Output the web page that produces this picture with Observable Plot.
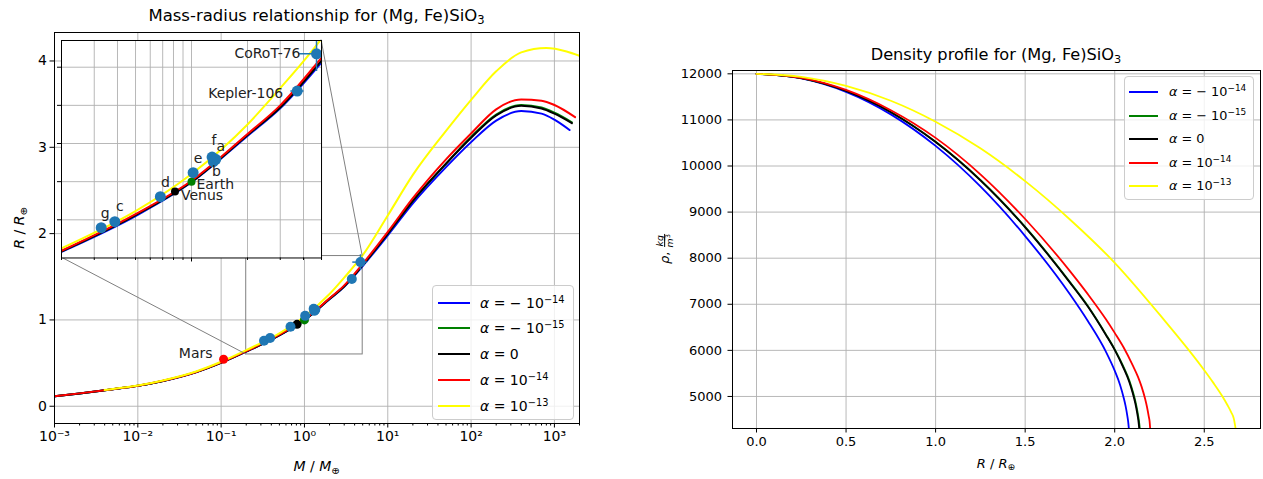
<!DOCTYPE html>
<html><head><meta charset="utf-8">
<script src="https://cdn.jsdelivr.net/npm/d3@7"></script>
<script src="https://cdn.jsdelivr.net/npm/@observablehq/plot@0.6"></script>
<style>
body{margin:0;background:#fff;font-family:"DejaVu Sans",sans-serif;color:#000;}
#root{position:relative;width:1263px;height:479px;overflow:hidden;background:#fff;}
#root svg{max-width:none;position:absolute;}
.lbl{position:absolute;white-space:nowrap;line-height:1;}
.lbl sub{font-size:0.7em;vertical-align:-0.3em;line-height:0;}
.lbl sup{font-size:0.7em;vertical-align:0.55em;line-height:0;}
.legend{position:absolute;background:rgba(255,255,255,0.8);border:1px solid #cccccc;border-radius:4px;box-sizing:border-box;}
.row{position:absolute;left:0;white-space:nowrap;line-height:1;}
.row .sw{position:absolute;height:2px;}
.row .tx{position:absolute;}
</style></head><body><div id="root"></div>
<script>
// ---------------- data ----------------
const seriesKeys = ["m14", "m15", "zero", "p14", "p13"];
const seriesExp = ["−14", "−15", null, "−14", "−13"];
const seriesSign = ["− ", "− ", "", "", ""];
const seriesColors = ["#0000ff", "#008000", "#000000", "#ff0000", "#ffff00"];

// mass-radius curves (M in Earth masses, R in Earth radii)
const massBlue   = [0.001,0.002,0.005,0.01,0.02,0.05,0.1,0.2,0.5,1,2,3,5,10,20,50,100,200,400,700,1000,1520];
const radiusBlue = [0.114,0.147,0.196,0.236,0.292,0.394,0.503,0.632,0.82,0.997,1.24,1.385,1.625,1.98,2.35,2.77,3.06,3.31,3.42,3.39,3.32,3.20];
const massGreen   = [0.001,0.002,0.005,0.01,0.02,0.05,0.1,0.2,0.5,1,2,3,5,10,20,50,100,200,400,700,1000,1620];
const radiusGreen = [0.115,0.148,0.197,0.237,0.293,0.395,0.505,0.635,0.825,1.0,1.245,1.39,1.635,2.0,2.38,2.81,3.12,3.38,3.49,3.46,3.40,3.29];
const massBlack   = [0.001,0.002,0.005,0.01,0.02,0.05,0.1,0.2,0.5,1,2,3,5,10,20,50,100,200,400,700,1000,1620];
const radiusBlack = [0.115,0.148,0.197,0.237,0.293,0.395,0.505,0.635,0.825,1.0,1.245,1.39,1.635,2.0,2.38,2.81,3.11,3.37,3.48,3.45,3.39,3.28];
const massRed   = [0.001,0.002,0.005,0.01,0.02,0.05,0.1,0.2,0.5,1,2,3,5,10,20,50,100,200,400,700,1000,1770];
const radiusRed = [0.116,0.149,0.198,0.238,0.295,0.397,0.508,0.638,0.83,1.005,1.25,1.40,1.65,2.02,2.41,2.86,3.16,3.44,3.555,3.54,3.49,3.35];
const massYellow   = [0.004,0.005,0.01,0.02,0.05,0.1,0.2,0.5,1,2,3,5,10,20,50,100,200,400,800,1400,2000];
const radiusYellow = [0.187,0.200,0.240,0.299,0.403,0.515,0.65,0.845,1.04,1.30,1.49,1.75,2.21,2.68,3.19,3.55,3.88,4.10,4.15,4.11,4.06];

// density profiles (R in Earth radii, rho in kg/m^3)
const rBlue   = [0,0.25,0.5,0.75,1.0,1.25,1.5,1.75,1.85,1.95,2.0,2.03,2.05,2.06,2.07,2.075,2.079];
const rhoBlue = [12000,11902,11609,11120,10436,9557,8480,7217,6637,5977,5559,5251,4974,4806,4592,4460,4305];
const rGreen   = [0,0.25,0.5,0.75,1.0,1.25,1.5,1.75,1.85,1.95,2.0,2.053,2.083,2.103,2.118,2.128,2.135,2.14];
const rhoGreen = [12000,11909,11632,11172,10525,9697,8680,7482,6962,6352,6022,5610,5330,5080,4850,4650,4480,4305];
const rBlack   = [0,0.25,0.5,0.75,1.0,1.25,1.5,1.75,1.85,1.95,2.0,2.05,2.08,2.1,2.115,2.125,2.132,2.137];
const rhoBlack = [12000,11908,11630,11167,10520,9690,8670,7470,6950,6340,6010,5610,5330,5080,4850,4650,4480,4305];
const rRed   = [0,0.25,0.5,0.75,1.0,1.25,1.5,1.75,1.85,1.95,2.0,2.05,2.1,2.13,2.15,2.17,2.18,2.19,2.195,2.198];
const rhoRed = [12000,11912,11650,11210,10610,9820,8850,7720,7220,6680,6380,6062,5680,5425,5213,4945,4778,4570,4455,4305];
const rYellow   = [0,0.25,0.5,0.75,1.0,1.25,1.5,1.75,2.0,2.25,2.5,2.55,2.6,2.63,2.65,2.665,2.675];
const rhoYellow = [12000,11935,11738,11415,10960,10383,9671,8840,7900,6780,5570,5300,5010,4810,4660,4520,4305];

// exoplanets
const planetNames  = ["g","c","d","e","f","a","b","Kepler-106","CoRoT-76"];
const planetMass   = [0.327,0.387,0.68,1.02,1.29,1.35,1.31,3.7,4.7];
const planetRadius = [0.759,0.79,0.921,1.047,1.129,1.117,1.105,1.475,1.67];
const planetMassErr   = [0,0,0,0,0,0,0,0.3,0.95];
const planetRadiusErr = [0,0,0,0,0,0,0,0,0.09];
// solar system planets
const solarNames  = ["Venus","Earth","Mars"];
const solarMass   = [0.815,1.0,0.107];
const solarRadius = [0.949,1.0,0.545];

// axis domains / ticks
const massDomain = [1e-3, 2000];
const radiusDomain = [-0.2, 4.33];
const radiusTicks = [0,1,2,3,4];
const zoomMass = [0.2, 5];
const zoomRadius = [0.6, 1.74];
const zoomRadiusTicks = [0.8,1.0,1.2,1.4,1.6];
const densRDomain = [-0.134, 2.814];
const densRhoDomain = [4305, 12072];
const densRTicks = [0,0.5,1.0,1.5,2.0,2.5];
const densRhoTicks = [5000,6000,7000,8000,9000,10000,11000,12000];

// ---------------- build ----------------
const root = document.getElementById("root");
const FONT = "DejaVu Sans";
const GRID = "#b0b0b0";
const DOT = "#1f77b4";
const solarColors = ["#000000", "#008000", "#ff0000"];

const mrRows = [
  [massBlue, radiusBlue], [massGreen, radiusGreen], [massBlack, radiusBlack],
  [massRed, radiusRed], [massYellow, radiusYellow]
].flatMap(([M, R], k) => M.map((m, i) => ({series: seriesKeys[k], M: m, R: R[i]})));
const densRows = [
  [rBlue, rhoBlue], [rGreen, rhoGreen], [rBlack, rhoBlack], [rRed, rhoRed], [rYellow, rhoYellow]
].flatMap(([X, Y], k) => X.map((r, i) => ({series: seriesKeys[k], r, rho: Y[i]})));
const planets = planetNames.map((n, i) => ({name: n, M: planetMass[i], R: planetRadius[i],
  dM: planetMassErr[i], dR: planetRadiusErr[i]}));
const solar = solarNames.map((n, i) => ({name: n, M: solarMass[i], R: solarRadius[i], c: solarColors[i]}));

const supDigits = "⁰¹²³⁴⁵⁶⁷⁸⁹";
const supStr = s => String(s).replace(/-/g, "⁻").replace(/\d/g, d => supDigits[d]);
const fmtPow = d => "10" + supStr(Math.round(Math.log10(d)));

const logTicks = (lo, hi) => d3.scaleLog().domain([lo, hi]).ticks();
const isPow10 = d => Math.abs(Math.log10(d) - Math.round(Math.log10(d))) < 1e-9;
const allMassTicks = logTicks(massDomain[0], massDomain[1]);
const majorMassTicks = allMassTicks.filter(isPow10);
const minorMassTicks = allMassTicks.filter(d => !isPow10(d));
const allZoomTicks = logTicks(zoomMass[0], zoomMass[1]);
const majorZoomTicks = allZoomTicks.filter(isPow10);
const minorZoomTicks = allZoomTicks.filter(d => !isPow10(d));

const color = {domain: seriesKeys, range: seriesColors};

// main mass-radius panel
const MF = {left: 54, right: 579, top: 32, bottom: 423, W: 600, H: 479};
const main = Plot.plot({
  width: MF.W, height: MF.H,
  marginLeft: MF.left, marginRight: MF.W - MF.right, marginTop: MF.top, marginBottom: MF.H - MF.bottom,
  x: {type: "log", domain: massDomain, label: null},
  y: {domain: radiusDomain, label: null},
  color,
  style: {fontFamily: FONT, fontSize: "14px", background: "transparent", overflow: "visible"},
  marks: [
    Plot.gridX(majorMassTicks, {stroke: GRID, strokeOpacity: 1, strokeWidth: 0.9}),
    Plot.gridY(radiusTicks, {stroke: GRID, strokeOpacity: 1, strokeWidth: 0.9}),
    Plot.axisX(minorMassTicks, {tickSize: 2.5, tickFormat: () => "", label: null}),
    Plot.axisX(majorMassTicks, {tickSize: 4.5, tickPadding: 3, tickFormat: fmtPow, label: null}),
    Plot.axisY(radiusTicks, {tickSize: 4.5, tickPadding: 3, tickFormat: d => String(d), label: null}),
    Plot.rect([{}], {x1: () => zoomMass[0], x2: () => zoomMass[1], y1: () => zoomRadius[0], y2: () => zoomRadius[1],
      stroke: "#808080", fill: "none", strokeWidth: 1}),
    Plot.line(mrRows, {x: "M", y: "R", z: "series", stroke: "series", strokeWidth: 2, curve: "monotone-x", clip: true}),
    Plot.dot(solar, {x: "M", y: "R", r: 4.5, fill: d => d.c, stroke: null}),
    Plot.link(planets.filter(d => d.dM > 0), {x1: d => d.M - d.dM, x2: d => d.M + d.dM, y1: "R", y2: "R", stroke: DOT, strokeWidth: 1.5}),
    Plot.link(planets.filter(d => d.dR > 0), {x1: "M", x2: "M", y1: d => d.R - d.dR, y2: d => d.R + d.dR, stroke: DOT, strokeWidth: 1.5}),
    Plot.dot(planets, {x: "M", y: "R", r: 5, fill: DOT, stroke: null}),
    Plot.text(solar.filter(d => d.name === "Mars"), {x: "M", y: "R", text: "name", dx: -11, dy: -6, textAnchor: "end", fontSize: 14, fill: "#222"}),
    Plot.frame({stroke: "#000", strokeWidth: 1})
  ]
});
main.style.left = "0px"; main.style.top = "0px";
root.appendChild(main);

// inset placement (fractions of main axes)
const insetFrac = {x0: 0.0133, x1: 0.5086, y0: 0.4246, y1: 0.9808};
const IB = {
  left: MF.left + insetFrac.x0 * (MF.right - MF.left),
  right: MF.left + insetFrac.x1 * (MF.right - MF.left),
  top: MF.bottom - insetFrac.y1 * (MF.bottom - MF.top),
  bottom: MF.bottom - insetFrac.y0 * (MF.bottom - MF.top)
};
// connector lines from inset corners to zoom box corners
{
  const sx = main.scale("x"), sy = main.scale("y");
  const svg = d3.select(main);
  const conns = [
    [IB.left, IB.bottom, sx.apply(zoomMass[0]), sy.apply(zoomRadius[0])],
    [IB.right, IB.top, sx.apply(zoomMass[1]), sy.apply(zoomRadius[1])]
  ];
  svg.append("g").selectAll("line").data(conns).join("line")
    .attr("x1", d => d[0]).attr("y1", d => d[1]).attr("x2", d => d[2]).attr("y2", d => d[3])
    .attr("stroke", "#808080").attr("stroke-width", 1);
}

// inset
const PAD = 8;
const iw = IB.right - IB.left, ih = IB.bottom - IB.top;
const labelOffsets = {
  "g": {dx: 4, dy: -14, anchor: "middle"}, "c": {dx: 5, dy: -15, anchor: "middle"},
  "d": {dx: 5, dy: -14, anchor: "middle"}, "e": {dx: 5, dy: -14, anchor: "middle"},
  "f": {dx: 2, dy: -17, anchor: "middle"}, "a": {dx: 5, dy: -13, anchor: "middle"},
  "b": {dx: 3, dy: 10, anchor: "middle"},
  "Kepler-106": {dx: -14, dy: 2, anchor: "end"}, "CoRoT-76": {dx: -16, dy: 0, anchor: "end"},
  "Earth": {dx: 5, dy: 3, anchor: "start"}, "Venus": {dx: 6, dy: 4, anchor: "start"}
};
const insetLabels = [...planets, ...solar.filter(d => d.name !== "Mars")];
const inset = Plot.plot({
  width: iw + 2 * PAD, height: ih + 2 * PAD, margin: PAD,
  x: {type: "log", domain: zoomMass, label: null},
  y: {domain: zoomRadius, label: null},
  color,
  style: {fontFamily: FONT, fontSize: "14px", background: "transparent", overflow: "visible"},
  marks: [
    Plot.frame({fill: "#fff", stroke: null}),
    Plot.gridX(allZoomTicks, {stroke: GRID, strokeOpacity: 1, strokeWidth: 0.9}),
    Plot.gridY(zoomRadiusTicks, {stroke: GRID, strokeOpacity: 1, strokeWidth: 0.9}),
    Plot.axisX(minorZoomTicks, {tickSize: 2.5, tickFormat: () => "", label: null}),
    Plot.axisX(majorZoomTicks, {tickSize: 4, tickFormat: () => "", label: null}),
    Plot.axisY(zoomRadiusTicks, {tickSize: 4, tickFormat: () => "", label: null}),
    Plot.line(mrRows, {x: "M", y: "R", z: "series", stroke: "series", strokeWidth: 2, curve: "monotone-x", clip: true}),
    Plot.dot(solar, {x: "M", y: "R", r: 4, fill: d => d.c, stroke: null, clip: true}),
    Plot.link(planets.filter(d => d.dM > 0), {x1: d => d.M - d.dM, x2: d => d.M + d.dM, y1: "R", y2: "R", stroke: DOT, strokeWidth: 1.5, clip: true}),
    Plot.link(planets.filter(d => d.dR > 0), {x1: "M", x2: "M", y1: d => d.R - d.dR, y2: d => d.R + d.dR, stroke: DOT, strokeWidth: 1.5, clip: true}),
    Plot.dot(planets, {x: "M", y: "R", r: 5.5, fill: DOT, stroke: null}),
    ...insetLabels.map(d => {
      const o = labelOffsets[d.name];
      return Plot.text([d], {x: "M", y: "R", text: "name", fontSize: 14, fill: "#222",
        dx: o.dx, dy: o.dy, textAnchor: o.anchor});
    }),
    Plot.frame({stroke: "#000", strokeWidth: 1})
  ]
});
inset.style.left = (IB.left - PAD) + "px"; inset.style.top = (IB.top - PAD) + "px";
root.appendChild(inset);

// density panel
const DF = {x: 640, W: 623, H: 479, left: 92, right: 620, top: 70, bottom: 428};
const dens = Plot.plot({
  width: DF.W, height: DF.H,
  marginLeft: DF.left, marginRight: DF.W - DF.right, marginTop: DF.top, marginBottom: DF.H - DF.bottom,
  x: {domain: densRDomain, label: null},
  y: {domain: densRhoDomain, label: null},
  color,
  style: {fontFamily: FONT, fontSize: "13px", background: "transparent", overflow: "visible"},
  marks: [
    Plot.gridX(densRTicks, {stroke: GRID, strokeOpacity: 1, strokeWidth: 0.9}),
    Plot.gridY(densRhoTicks, {stroke: GRID, strokeOpacity: 1, strokeWidth: 0.9}),
    Plot.axisX(densRTicks, {tickSize: 4.5, tickPadding: 4, tickFormat: d3.format(".1f"), label: null}),
    Plot.axisY(densRhoTicks, {tickSize: 4.5, tickPadding: 6, tickFormat: d => String(d), label: null}),
    Plot.line(densRows, {x: "r", y: "rho", z: "series", stroke: "series", strokeWidth: 1.8, curve: "monotone-x", clip: true}),
    Plot.frame({stroke: "#000", strokeWidth: 1})
  ]
});
dens.style.left = DF.x + "px"; dens.style.top = "0px";
root.appendChild(dens);

// ---------------- text / legends ----------------
function label(html, x, y, size, opts = {}) {
  const d = document.createElement("div");
  d.className = "lbl";
  d.innerHTML = html;
  d.style.fontSize = size + "px";
  d.style.left = x + "px"; d.style.top = y + "px";
  d.style.transform = opts.rotate ? "translate(-50%,-50%) rotate(-90deg)" : "translate(-50%,-50%)";
  root.appendChild(d);
  return d;
}
label("Mass-radius relationship for (Mg, Fe)SiO<sub>3</sub>", (MF.left + MF.right) / 2, 16, 16.5);
label("<i>M</i> / <i>M</i><sub>⊕</sub>", (MF.left + MF.right) / 2, 466, 14);
label("<i>R</i> / <i>R</i><sub>⊕</sub>", 19, (MF.top + MF.bottom) / 2, 14, {rotate: true});
label("Density profile for (Mg, Fe)SiO<sub>3</sub>", DF.x + (DF.left + DF.right) / 2, 55, 16.2);
label("<i>R</i> / <i>R</i><sub>⊕</sub>", DF.x + (DF.left + DF.right) / 2, 463, 13);
label("<i>ρ</i>, <span style='display:inline-block;vertical-align:middle;text-align:center;font-size:0.72em;line-height:1'><span style='display:block;border-bottom:0.8px solid #000;padding:0 1px'><i>kg</i></span><span style='display:block'><i>m</i><sup style=\"font-size:0.7em\">3</sup></span></span>",
  665, (DF.top + DF.bottom) / 2, 13, {rotate: true});

function legend(box, size) {
  const lg = document.createElement("div");
  lg.className = "legend";
  lg.style.left = box.left + "px"; lg.style.top = box.top + "px";
  lg.style.width = box.width + "px"; lg.style.height = box.height + "px";
  seriesKeys.forEach((k, i) => {
    const row = document.createElement("div");
    row.className = "row";
    row.style.top = (box.row0 + i * box.step) + "px";
    const sw = document.createElement("div");
    sw.className = "sw";
    sw.style.left = box.swLeft + "px"; sw.style.width = box.swWidth + "px";
    sw.style.top = "-1px"; sw.style.background = seriesColors[i];
    const tx = document.createElement("div");
    tx.className = "tx lbl";
    tx.style.left = box.txLeft + "px"; tx.style.top = "0px";
    tx.style.transform = "translateY(-50%)";
    tx.style.fontSize = size + "px";
    tx.innerHTML = seriesExp[i] === null ? "<i>α</i> = 0" :
      "<i>α</i> = " + seriesSign[i] + "10<sup>" + seriesExp[i] + "</sup>";
    row.appendChild(sw); row.appendChild(tx);
    lg.appendChild(row);
  });
  root.appendChild(lg);
}
legend({left: 432, top: 285, width: 142, height: 135, row0: 16.5, step: 25.8, swLeft: 4.5, swWidth: 32, txLeft: 47}, 14);
legend({left: 1124, top: 76, width: 130, height: 124, row0: 15, step: 23.6, swLeft: 4, swWidth: 29, txLeft: 44}, 12.8);
</script>
</body></html>
